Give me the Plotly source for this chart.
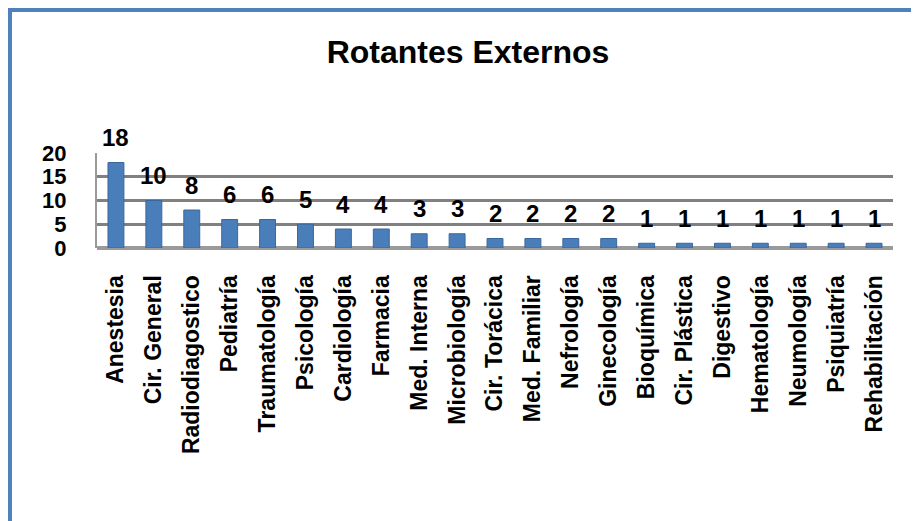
import plotly.graph_objects as go

categories = ["Anestesia", "Cir. General", "Radiodiagostico", "Pediatría", "Traumatología",
              "Psicología", "Cardiología", "Farmacia", "Med. Interna", "Microbiología",
              "Cir. Torácica", "Med. Familiar", "Nefrología", "Ginecología", "Bioquímica",
              "Cir. Plástica", "Digestivo", "Hematología", "Neumología", "Psiquiatría",
              "Rehabilitación"]
values = [18, 10, 8, 6, 6, 5, 4, 4, 3, 3, 2, 2, 2, 2, 1, 1, 1, 1, 1, 1, 1]
y_ticks = [0, 5, 10, 15, 20]

FONT = "Liberation Sans, Arial, sans-serif"
BLUE = "#4F81BD"

# the page body has an 8px margin; figure is sized so that it fills the window
W, H = 911, 513
L, T = 89, 145
PW, PH = 796, 95

fig = go.Figure()
fig.add_trace(go.Bar(
    x=categories, y=values, width=0.42,
    marker=dict(color="#4A7EBB", line=dict(color="#3A679E", width=1)),
    hoverinfo="x+y",
))

for c, v in zip(categories, values):
    fig.add_annotation(x=c, y=v, text=f"<b>{v}</b>", showarrow=False,
                       yshift=25, yanchor="middle",
                       font=dict(family=FONT, size=24, color="black"))

# outer frame (only left and top edges visible in the window)
fig.add_shape(type="rect", xref="paper", yref="paper",
              x0=(2 - L) / PW, x1=(940 - L) / PW,
              y0=(T + PH - 540) / PH, y1=(T + PH - 2) / PH,
              line=dict(color=BLUE, width=4), fillcolor="rgba(0,0,0,0)", layer="below")

fig.update_layout(
    width=W, height=H,
    margin=dict(l=L, r=W - L - PW, t=T, b=H - T - PH, autoexpand=False),
    paper_bgcolor="white", plot_bgcolor="white",
    showlegend=False,
    title=dict(text="<b>Rotantes Externos</b>", x=460 / W, xanchor="center",
               y=1 - 44 / H, yanchor="middle", yref="container",
               font=dict(family=FONT, size=32, color="black")),
    xaxis=dict(type="category", range=[-0.5, len(categories) - 0.5],
               tickangle=-90, showgrid=False, showline=False, zeroline=False,
               ticks="outside", ticklen=17, tickcolor="rgba(0,0,0,0)",
               tickvals=categories, ticktext=[f"<b>{c}</b>" for c in categories],
               tickfont=dict(family=FONT, size=23, color="black"),
               automargin=False),
    yaxis=dict(range=[0, 20], tickvals=y_ticks, ticktext=[f"<b>{t}</b>" for t in y_ticks],
               showgrid=True, gridcolor="#808080", gridwidth=3,
               zeroline=True, zerolinecolor="#9A9A9A", zerolinewidth=4,
               showline=True, linecolor="#9A9A9A", linewidth=2,
               ticks="outside", ticklen=24, tickcolor="rgba(0,0,0,0)",
               tickfont=dict(family=FONT, size=22, color="black"),
               automargin=False),
)

fig.write_html("out.html")
